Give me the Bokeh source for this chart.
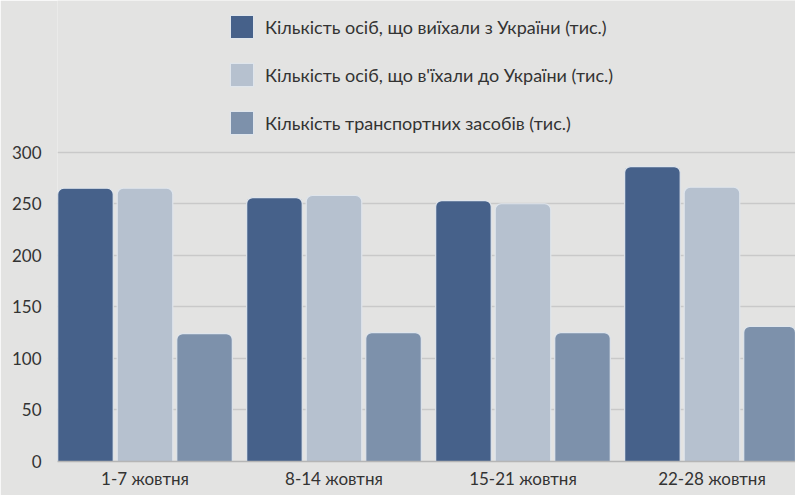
from bokeh.plotting import figure
from bokeh.models import ColumnDataSource, Range1d, FixedTicker, Legend, LegendItem
from bokeh.transform import dodge
from bokeh.embed import file_html
from bokeh.resources import INLINE

weeks = ["1-7 жовтня", "8-14 жовтня", "15-21 жовтня", "22-28 жовтня"]
left_ukraine = [265, 256, 253, 286]
entered_ukraine = [265, 258, 250, 266]
vehicles = [124, 125, 125, 131]
series_names = [
    "Кількість осіб, що виїхали з України (тис.)",
    "Кількість осіб, що в'їхали до України (тис.)",
    "Кількість транспортних засобів (тис.)",
]
colors = ["#46618a", "#b6c1cf", "#7d91ab"]
y_ticks = [0, 50, 100, 150, 200, 250, 300]

BG = "#e3e3e2"
FONT = "Lato"

src = ColumnDataSource(dict(
    x=list(range(len(weeks))),
    a=left_ukraine, b=entered_ukraine, c=vehicles,
))

p = figure(width=795, height=495, output_backend="svg", toolbar_location=None,
           x_range=Range1d(-0.463, 3.442), y_range=Range1d(0, 447.1),
           min_border_left=57, min_border_right=0, min_border_top=0,
           min_border_bottom=34)
p.background_fill_color = BG
p.border_fill_color = BG
p.outline_line_color = None

w = 0.294
off = 0.315
renderers = []
for col, dx, color in zip(["a", "b", "c"], [-off, 0, off], colors):
    r = p.vbar(x=dodge("x", dx), top=col, width=w, source=src,
               fill_color=color, line_color="#dfe5ec", line_width=1.2,
               border_radius=(6, 6, 0, 0))
    renderers.append(r)

p.xgrid.grid_line_color = None
p.ygrid.grid_line_color = "#c9c9c9"
p.ygrid.grid_line_width = 1.5
p.ygrid.ticker = FixedTicker(ticks=y_ticks)

p.yaxis.ticker = FixedTicker(ticks=y_ticks)
p.yaxis.axis_line_color = None
p.yaxis.major_tick_line_color = None
p.yaxis.minor_tick_line_color = None
p.yaxis.major_label_standoff = 10
p.yaxis.major_label_text_font = FONT
p.yaxis.major_label_text_font_size = "17px"
p.yaxis.major_label_text_color = "#333333"

p.xaxis.ticker = FixedTicker(ticks=list(range(len(weeks))))
p.xaxis.major_label_overrides = {i: wk for i, wk in enumerate(weeks)}
p.xaxis.axis_line_color = "#b5b5b5"
p.xaxis.axis_line_width = 1.5
p.xaxis.major_tick_line_color = None
p.xaxis.minor_tick_line_color = None
p.xaxis.major_label_standoff = 0
p.xaxis.major_label_text_font = FONT
p.xaxis.major_label_text_font_size = "17px"
p.xaxis.major_label_text_color = "#333333"

legend = Legend(items=[LegendItem(label=n, renderers=[r]) for n, r in zip(series_names, renderers)],
                location=(170, 324), orientation="vertical")
legend.background_fill_alpha = 0
legend.border_line_color = None
legend.padding = 6
legend.margin = 0
legend.glyph_width = 29
legend.glyph_height = 29
legend.spacing = 19
legend.label_standoff = 9
legend.label_text_font = FONT
legend.label_text_font_size = "18px"
legend.label_text_color = "#333333"
legend.label_height = 29
p.add_layout(legend, "center")

html = file_html(p, INLINE)
html = html.replace("<body>", '<body style="background:%s">' % BG, 1)
open("out.html", "w").write(html)
